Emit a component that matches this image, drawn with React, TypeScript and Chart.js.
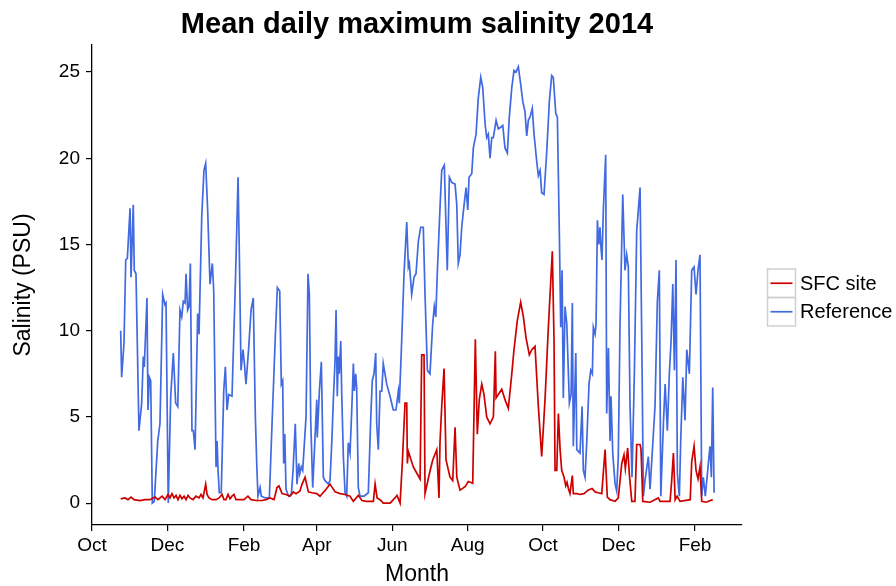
import React, { useEffect, useRef } from "react";
import { Chart, registerables } from "chart.js";

Chart.register(...registerables);

// Days are counted from 1 October 2013.
const monthTickDays = [0, 61, 123, 182, 243, 304, 365, 426, 488];
const monthTickLabels = ["Oct", "Dec", "Feb", "Apr", "Jun", "Aug", "Oct", "Dec", "Feb"];
const salinityTicks = [0, 5, 10, 15, 20, 25];

const referenceDays = [
  23.2, 24.0, 25.9, 27.3, 28.6, 30.8, 31.6, 33.4, 34.2, 35.6, 38.0, 40.2, 41.5, 42.3, 44.5, 45.3, 46.4, 47.5, 48.8, 50.4,
  53.2, 55.0, 57.2, 59.1, 59.9, 61.7, 63.7, 65.8, 67.7, 69.4, 71.2, 72.6, 73.9, 75.3, 76.1, 77.4, 78.5, 79.6, 80.9, 82.0,
  83.4, 85.5, 86.6, 88.8, 90.6, 92.0, 93.6, 95.5, 97.4, 98.5, 100.4, 101.2, 102.0, 103.0, 104.6, 106.6, 107.9, 109.3, 110.6, 113.3,
  116.0, 118.2, 119.2, 120.6, 122.2, 123.3, 124.6, 126.8, 128.7, 130.5, 132.2, 133.3, 134.3, 136.0, 137.0, 140.3, 143.5, 145.7, 148.3, 150.0,
  151.9, 153.2, 154.3, 155.1, 156.0, 157.0, 159.2, 161.3, 162.7, 164.5, 165.9, 167.3, 168.1, 169.4, 170.5, 173.2, 174.8, 175.9, 177.0, 178.6,
  181.9, 182.3, 184.0, 185.6, 187.2, 188.6, 191.2, 192.6, 194.2, 195.3, 196.7, 197.5, 198.5, 199.3, 200.1, 201.3, 202.1, 203.4, 204.8, 206.1,
  207.4, 208.8, 210.2, 211.5, 212.3, 213.4, 214.2, 215.5, 216.9, 220.1, 223.6, 225.6, 226.8, 228.2, 229.6, 230.4, 231.7, 233.1, 234.5, 235.7,
  237.1, 238.5, 241.2, 243.8, 246.0, 247.9, 248.7, 250.6, 252.5, 254.7, 256.0, 256.8, 258.7, 260.6, 262.2, 264.1, 266.0, 268.1, 269.5, 271.4,
  273.5, 275.7, 277.0, 278.2, 279.4, 281.6, 283.0, 285.1, 286.5, 287.5, 289.2, 291.1, 293.8, 295.2, 296.4, 297.8, 299.2, 301.1, 302.7, 304.1,
  305.1, 307.3, 308.6, 310.8, 312.6, 314.6, 316.2, 318.1, 319.4, 320.7, 322.1, 323.5, 324.8, 327.0, 328.8, 330.8, 332.4, 334.2, 336.1, 337.7,
  339.7, 341.5, 343.1, 345.0, 346.9, 348.6, 350.4, 351.8, 353.1, 354.5, 356.3, 357.7, 359.9, 361.2, 362.6, 363.9, 365.8, 368.0, 370.1, 372.0,
  373.3, 375.3, 376.6, 378.2, 379.3, 380.4, 381.4, 382.8, 384.2, 386.3, 387.7, 388.7, 389.5, 391.5, 392.3, 394.9, 396.6, 397.6, 399.0, 400.4,
  402.2, 403.6, 404.9, 405.7, 407.1, 407.9, 409.0, 410.1, 411.1, 411.9, 412.7, 413.8, 415.7, 416.5, 417.9, 419.2, 420.0, 421.4, 423.3, 424.6,
  425.9, 427.3, 429.5, 431.3, 432.7, 434.0, 435.4, 437.0, 438.9, 440.8, 443.5, 444.9, 446.2, 447.5, 450.2, 451.6, 455.6, 457.5, 459.1, 460.3,
  462.4, 463.8, 465.6, 467.2, 468.6, 470.0, 471.3, 472.6, 473.7, 475.3, 476.4, 478.1, 479.9, 481.3, 483.4, 485.3, 487.2, 488.8, 490.4, 492.0,
  493.4, 494.7, 496.3, 500.1, 501.2, 502.3, 503.4,
];
const referenceSalinity = [
  10.0, 7.3, 9.3, 14.1, 14.2, 17.1, 13.1, 17.3, 13.5, 13.3, 4.2, 5.8, 8.5, 7.9, 11.9, 5.4, 7.3, 7.1, 0.0, 0.1,
  3.6, 4.6, 12.1, 11.5, 11.6, 0.0, 6.2, 8.7, 5.8, 5.6, 11.2, 10.8, 11.7, 11.6, 13.3, 11.2, 11.4, 13.9, 4.2, 4.2,
  3.1, 11.0, 9.8, 16.6, 19.3, 19.7, 17.0, 12.7, 13.9, 12.3, 2.1, 3.6, 1.9, 0.6, 0.6, 6.5, 7.9, 5.4, 6.3, 6.2,
  12.7, 18.9, 14.6, 7.7, 8.9, 8.1, 6.9, 9.0, 11.2, 11.9, 5.0, 2.3, 0.4, 0.9, 0.4, 0.3, 0.3, 4.6, 9.6, 12.5,
  12.3, 6.9, 7.1, 2.3, 4.0, 0.8, 0.4, 0.5, 1.9, 4.6, 1.1, 2.3, 1.7, 2.1, 1.9, 5.0, 13.3, 12.1, 4.8, 0.9,
  6.0, 3.8, 6.5, 8.2, 1.5, 1.3, 1.1, 1.3, 3.8, 6.0, 8.3, 11.2, 6.2, 8.5, 7.5, 9.4, 6.3, 2.7, 0.6, 0.4,
  3.5, 2.9, 5.4, 8.1, 6.5, 7.5, 6.7, 0.9, 0.4, 0.4, 0.6, 5.0, 7.1, 7.5, 8.7, 4.6, 3.1, 6.5, 6.5, 8.1,
  7.5, 6.9, 6.2, 5.4, 5.4, 6.5, 5.8, 9.4, 13.3, 16.3, 13.7, 13.9, 12.1, 13.1, 13.3, 15.2, 16.0, 16.0, 12.1, 7.7,
  7.5, 10.4, 11.4, 10.8, 13.3, 17.1, 19.3, 19.6, 16.0, 13.5, 18.9, 18.6, 18.5, 17.3, 13.9, 14.4, 16.0, 17.3, 18.3, 17.0,
  18.9, 19.1, 20.6, 21.4, 23.5, 24.7, 24.1, 22.0, 21.2, 21.4, 20.0, 21.2, 21.2, 22.2, 21.7, 21.8, 21.9, 20.6, 20.3, 22.4,
  24.1, 25.1, 25.0, 25.3, 24.3, 23.3, 22.7, 21.3, 22.2, 22.4, 22.9, 21.4, 19.8, 19.0, 19.3, 18.0, 17.9, 20.4, 23.3, 24.8,
  24.7, 22.6, 22.4, 15.6, 10.2, 13.5, 6.1, 11.4, 10.4, 5.8, 6.3, 11.6, 3.3, 8.7, 3.1, 2.9, 5.6, 1.9, 1.5, 3.6,
  6.9, 7.7, 7.5, 10.2, 9.8, 10.4, 16.4, 15.0, 16.0, 14.8, 14.1, 17.0, 20.2, 5.2, 9.0, 3.6, 6.2, 2.9, 1.1, 0.7,
  2.7, 10.4, 17.9, 13.5, 14.4, 13.7, 5.6, 1.5, 7.5, 15.8, 18.3, 9.4, 0.4, 1.3, 2.7, 0.8, 5.6, 11.7, 13.5, 0.4,
  4.6, 6.9, 4.2, 7.5, 9.4, 12.7, 7.7, 14.1, 1.7, 0.4, 3.6, 7.3, 4.8, 8.9, 7.5, 13.5, 13.7, 12.1, 13.5, 14.4,
  0.4, 1.5, 0.4, 3.3, 1.5, 6.7, 0.6,
];

const sfcDays = [
  23.2, 26.7, 29.1, 31.6, 34.0, 38.8, 42.9, 46.9, 51.0, 53.4, 56.7, 59.1, 61.5, 63.1, 64.7, 66.4, 68.0, 69.6, 71.2, 72.8,
  74.5, 76.1, 77.7, 79.3, 81.7, 84.2, 86.6, 88.2, 89.8, 92.0, 93.1, 94.7, 97.1, 100.4, 102.8, 105.2, 106.8, 108.4, 110.1, 111.7,
  113.3, 114.9, 116.5, 119.8, 123.0, 126.2, 128.7, 132.7, 137.6, 140.8, 144.0, 147.3, 149.7, 151.3, 153.8, 157.0, 160.2, 162.9, 165.1, 168.3,
  170.0, 172.4, 175.1, 178.0, 181.9, 184.5, 189.4, 192.6, 196.7, 200.7, 204.8, 208.8, 211.5, 215.5, 218.5, 221.8, 227.7, 229.1, 230.7, 233.1,
  235.7, 241.2, 245.2, 246.8, 249.3, 251.1, 251.9, 253.3, 254.7, 255.2, 256.0, 260.0, 265.5, 266.8, 268.7, 269.5, 273.0, 275.7, 279.0, 280.8,
  281.6, 283.0, 284.9, 286.5, 289.7, 291.9, 293.8, 295.2, 297.8, 301.9, 304.5, 308.1, 310.2, 311.8, 313.4, 315.4, 317.2, 319.4, 322.1, 324.8,
  326.4, 327.0, 328.8, 331.6, 334.2, 336.9, 339.7, 341.5, 344.2, 346.9, 349.1, 351.2, 353.9, 355.9, 358.5, 361.2, 363.9, 366.6, 369.3, 372.5,
  373.9, 374.7, 376.1, 377.4, 378.8, 380.1, 382.0, 383.4, 384.4, 385.5, 386.8, 388.7, 389.5, 392.5, 394.9, 398.2, 401.4, 404.7, 407.1, 409.5,
  412.5, 415.2, 417.0, 419.2, 423.3, 425.9, 428.7, 430.5, 431.6, 433.5, 434.8, 436.8, 439.4, 440.8, 443.5, 444.3, 445.7, 451.6, 458.3, 459.7,
  467.8, 469.1, 470.5, 471.9, 473.5, 475.9, 484.1, 485.3, 487.2, 488.8, 490.4, 492.0, 493.4, 496.9, 502.3,
];
const sfcSalinity = [
  0.25, 0.3, 0.2, 0.35, 0.2, 0.15, 0.2, 0.2, 0.35, 0.2, 0.4, 0.2, 0.5, 0.3, 0.55, 0.3, 0.45, 0.2, 0.45, 0.25,
  0.4, 0.2, 0.45, 0.3, 0.2, 0.4, 0.3, 0.5, 0.3, 1.1, 0.5, 0.3, 0.2, 0.2, 0.3, 0.5, 0.2, 0.2, 0.5, 0.25,
  0.4, 0.5, 0.2, 0.2, 0.2, 0.4, 0.2, 0.15, 0.15, 0.2, 0.3, 0.2, 0.9, 1.0, 0.55, 0.5, 0.4, 0.65, 0.55, 0.7,
  1.1, 1.5, 0.65, 0.6, 0.55, 0.4, 0.8, 1.1, 0.65, 0.55, 0.5, 0.4, 0.1, 0.45, 0.15, 0.1, 0.1, 1.1, 0.3, 0.2,
  0.0, 0.0, 0.3, 0.45, 0.0, 2.3, 3.6, 5.8, 5.8, 2.3, 3.0, 2.1, 1.4, 8.6, 8.6, 0.55, 1.7, 2.5, 3.1, 0.3,
  3.5, 5.6, 7.8, 2.5, 1.5, 1.3, 4.4, 1.5, 0.75, 0.95, 1.25, 1.15, 9.5, 4.0, 6.0, 6.9, 6.3, 5.0, 4.6, 5.0,
  8.8, 6.1, 6.3, 6.6, 6.0, 5.5, 7.5, 8.9, 10.6, 11.65, 10.8, 9.6, 8.6, 8.9, 9.1, 5.6, 2.7, 6.0, 10.2, 14.6,
  9.4, 1.9, 1.9, 5.2, 3.1, 1.9, 1.5, 1.0, 1.2, 0.85, 0.55, 1.6, 0.55, 0.55, 0.5, 0.55, 0.75, 0.85, 0.65, 0.6,
  0.55, 3.1, 0.35, 0.2, 0.1, 0.3, 2.3, 2.8, 2.0, 3.2, 1.7, 0.1, 0.1, 3.4, 3.4, 3.1, 0.1, 0.05, 0.3, 0.1,
  0.1, 1.3, 2.9, 0.2, 0.4, 0.1, 0.2, 2.4, 3.3, 1.9, 1.4, 2.1, 0.1, 0.05, 0.2,
];

const SFC_COLOR = "#CD0000";
const REF_COLOR = "#4169E1";
const FONT = "'Liberation Sans', Arial, sans-serif";

const pairs = (xs: number[], ys: number[]) => xs.map((x, i) => ({ x, y: ys[i] }));

// Title, axis titles and the boxed legend on the right.
const annotations = {
  id: "annotations",
  afterDraw(chart: Chart) {
    const { ctx, chartArea } = chart;
    const cx = (chartArea.left + chartArea.right) / 2;
    const cy = (chartArea.top + chartArea.bottom) / 2;
    ctx.save();
    ctx.fillStyle = "#000";
    ctx.textAlign = "center";
    ctx.textBaseline = "alphabetic";
    ctx.font = `bold 29px ${FONT}`;
    ctx.fillText("Mean daily maximum salinity 2014", cx, 33);

    ctx.font = `23px ${FONT}`;
    ctx.fillText("Month", cx, 581);

    ctx.save();
    ctx.translate(30, cy);
    ctx.rotate(-Math.PI / 2);
    ctx.fillText("Salinity (PSU)", 0, 0);
    ctx.restore();

    const entries = [
      { label: "SFC site", color: SFC_COLOR },
      { label: "Reference", color: REF_COLOR },
    ];
    const boxX = 767.5;
    const boxW = 28;
    const boxH = 28.5;
    let y = 269;
    ctx.textAlign = "left";
    ctx.textBaseline = "middle";
    ctx.font = `20px ${FONT}`;
    for (const e of entries) {
      ctx.strokeStyle = "#D0D0D0";
      ctx.lineWidth = 1.5;
      ctx.strokeRect(boxX, y, boxW, boxH);
      ctx.strokeStyle = e.color;
      ctx.lineWidth = 1.7;
      ctx.beginPath();
      ctx.moveTo(boxX + 3, y + boxH / 2);
      ctx.lineTo(boxX + boxW - 3, y + boxH / 2);
      ctx.stroke();
      ctx.fillStyle = "#000";
      ctx.fillText(e.label, 800, y + boxH / 2 + 1);
      y += boxH;
    }
    ctx.restore();
  },
};

export default function App() {
  const canvasRef = useRef<HTMLCanvasElement | null>(null);

  useEffect(() => {
    document.body.style.margin = "0";
    const canvas = canvasRef.current;
    if (!canvas) return;
    const chart = new Chart(canvas, {
      type: "line",
      data: {
        datasets: [
          {
            label: "SFC site",
            data: pairs(sfcDays, sfcSalinity),
            borderColor: SFC_COLOR,
            borderWidth: 1.7,
            pointRadius: 0,
            tension: 0,
          },
          {
            label: "Reference",
            data: pairs(referenceDays, referenceSalinity),
            borderColor: REF_COLOR,
            borderWidth: 1.7,
            pointRadius: 0,
            tension: 0,
          },
        ],
      },
      options: {
        responsive: false,
        animation: false,
        devicePixelRatio: 1,
        layout: { padding: { left: 0, top: 45, right: 154, bottom: 0 } },
        plugins: {
          legend: { display: false },
          title: { display: false },
          tooltip: { enabled: false },
        },
        scales: {
          x: {
            type: "linear",
            min: 0,
            max: 526,
            afterBuildTicks: (scale: any) => {
              scale.ticks = monthTickDays.map((value) => ({ value }));
            },
            afterFit: (scale: any) => {
              scale.height = 61;
            },
            ticks: {
              autoSkip: false,
              maxRotation: 0,
              padding: 3,
              color: "#000",
              font: { family: FONT, size: 19 },
              callback: (value: any) => {
                const i = monthTickDays.indexOf(Number(value));
                return i >= 0 ? monthTickLabels[i] : "";
              },
            },
            grid: {
              drawOnChartArea: false,
              drawTicks: true,
              tickLength: 6,
              color: "#000",
              lineWidth: 1.2,
            },
            border: { display: true, color: "#000", width: 1.3 },
          },
          y: {
            type: "linear",
            min: -1.27,
            max: 26.57,
            afterBuildTicks: (scale: any) => {
              scale.ticks = salinityTicks.map((value) => ({ value }));
            },
            afterFit: (scale: any) => {
              scale.width = 92;
            },
            ticks: {
              padding: 6,
              color: "#000",
              font: { family: FONT, size: 19 },
            },
            grid: {
              drawOnChartArea: false,
              drawTicks: true,
              tickLength: 6,
              color: "#000",
              lineWidth: 1.2,
            },
            border: { display: true, color: "#000", width: 1.3 },
          },
        },
      },
      plugins: [annotations],
    });
    return () => chart.destroy();
  }, []);

  return (
    <div style={{ position: "absolute", left: 0, top: 0, width: 896, height: 586, background: "#fff" }}>
      <canvas ref={canvasRef} width={896} height={586} />
    </div>
  );
}
